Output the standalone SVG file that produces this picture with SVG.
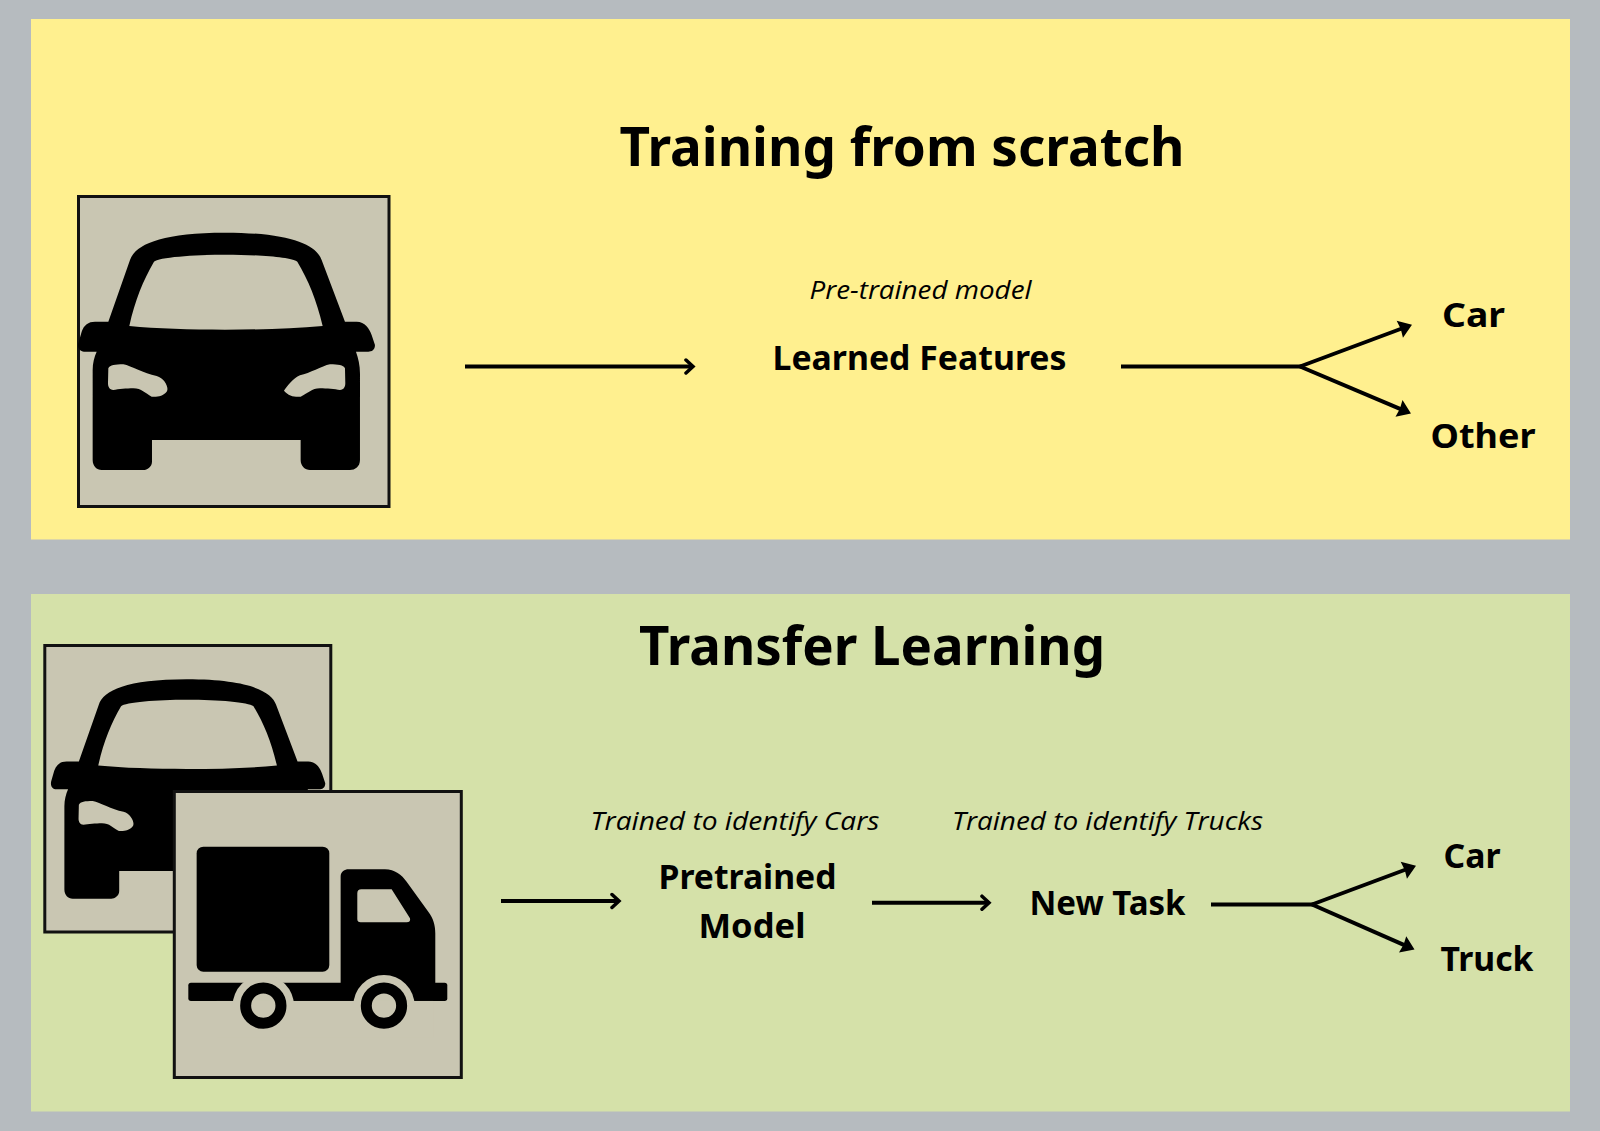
<svg xmlns="http://www.w3.org/2000/svg" width="1600" height="1131" viewBox="0 0 1600 1131">
<style>
.box{fill:#c9c6b2;stroke:#111;stroke-width:3}
.t{font-family:"Noto Sans","Open Sans",sans-serif;fill:#000;text-anchor:middle}
.h{font-size:54px;font-weight:700}
.b{font-size:34px;font-weight:700}
.i{font-family:"Open Sans","Noto Sans",sans-serif;font-size:25px;font-style:italic}
.c{fill:none;stroke:#000;stroke-width:4}
</style>
<defs>
<marker id="open" viewBox="0 0 12 18" refX="9" refY="9" markerWidth="12" markerHeight="18" markerUnits="userSpaceOnUse" orient="auto"><path d="M2 2.500L9 9L2 15.500" fill="none" stroke="#000" stroke-width="3.500" stroke-linecap="round"/></marker>
<marker id="solid" viewBox="0 0 14 20" refX="6" refY="10" markerWidth="14" markerHeight="20" markerUnits="userSpaceOnUse" orient="auto"><path d="M1 1L14 10L1 19L2 10Z" fill="#000"/></marker>
<path id="car" fill-rule="evenodd" d="M145 425L210 240C225 195 300 158 495 158C690 158 770 195 785 240L855 425L890 425C915 425 928 445 935 465L945 495C945 510 935 515 925 515L888 515C895 535 900 555 900 580L900 840C900 860 885 870 870 870L750 870C735 870 722 858 722 840L722 780L276 780L276 845C276 860 262 870 250 870L125 870C110 870 98 858 98 840L98 570C98 550 103 530 110 515L72 515C60 515 52 505 55 490L65 455C72 435 85 425 105 425Z M208 438C225 360 250 300 282 245C295 232 400 224 495 224C600 224 695 232 712 245C745 300 770 360 788 438C700 446 600 449 495 449C390 449 290 446 208 438Z M145 565C150 555 165 553 190 553C215 558 250 580 290 588C315 595 328 625 320 635C310 648 290 652 275 650C255 640 245 625 220 625C200 625 175 628 160 630C148 630 144 620 144 610Z M855 565C850 555 835 553 810 553C785 558 750 580 720 586C700 595 680 620 672 632C685 648 705 652 722 650C745 640 755 625 780 625C800 625 825 628 840 630C852 630 856 620 856 610Z"/>
</defs>
<rect width="1600" height="1131" fill="#b6bbbf"/>
<rect x="31" y="19" width="1539" height="520.500" fill="#fff08f"/>
<rect x="31" y="594" width="1539" height="517.500" fill="#d5e1a9"/>
<g id="title-scratch"><text class="t h" x="902" y="166" textLength="565" lengthAdjust="spacingAndGlyphs">Training from scratch</text></g>
<g id="title-transfer"><text class="t h" x="872" y="665" textLength="466" lengthAdjust="spacingAndGlyphs">Transfer Learning</text></g>
<g id="image-car-top"><rect class="box" x="78.500" y="196.500" width="310.500" height="310"/><use href="#car" transform="translate(60 180) scale(.3333)"/></g>
<g id="label-pretrained"><text class="t i" x="920.500" y="298.500" textLength="222" lengthAdjust="spacingAndGlyphs">Pre-trained model</text></g>
<g id="node-learned"><text class="t b" x="919.500" y="369.500" textLength="294" lengthAdjust="spacingAndGlyphs">Learned Features</text></g>
<g id="node-car-top"><text class="t b" x="1473.500" y="327" textLength="63" lengthAdjust="spacingAndGlyphs">Car</text></g>
<g id="node-other"><text class="t b" x="1483" y="448" textLength="105" lengthAdjust="spacingAndGlyphs">Other</text></g>
<g id="image-car-bottom"><rect class="box" x="44.800" y="645.500" width="286" height="286.500"/><use href="#car" transform="translate(34.200 630.700) scale(.308)"/></g>
<g id="image-truck"><rect class="box" x="174.300" y="791.500" width="287" height="286"/>
<g transform="translate(30 630) scale(.3333)"><rect x="500" y="650" width="398" height="375" rx="20"/><rect x="475" y="1058" width="777" height="55" rx="8"/><path fill-rule="evenodd" d="M932 1058L932 740C932 725 945 718 955 718L1065 718C1095 718 1115 735 1130 755L1195 845C1210 865 1216 885 1216 910L1216 1070L932 1070Z M982 790Q982 778 994 778L1085 778L1140 865Q1143 877 1130 877L992 877Q982 877 982 867Z"/><circle cx="700" cy="1127" r="92" fill="#c9c6b2"/><circle cx="1062" cy="1127" r="92" fill="#c9c6b2"/><rect x="560" y="1113" width="650" height="110" fill="#c9c6b2"/><circle cx="700" cy="1127" r="53" fill="none" stroke="#000" stroke-width="33"/><circle cx="1062" cy="1127" r="53" fill="none" stroke="#000" stroke-width="33"/></g></g>
<g id="label-cars"><text class="t i" x="735" y="829.500" textLength="289" lengthAdjust="spacingAndGlyphs">Trained to identify Cars</text></g>
<g id="label-trucks"><text class="t i" x="1107.500" y="829.500" textLength="311" lengthAdjust="spacingAndGlyphs">Trained to identify Trucks</text></g>
<g id="node-pretrained"><text class="t b" x="747.500" y="888.500" textLength="178" lengthAdjust="spacingAndGlyphs">Pretrained</text><text class="t b" x="752" y="937.500" textLength="107" lengthAdjust="spacingAndGlyphs">Model</text></g>
<g id="node-newtask"><text class="t b" x="1107.500" y="915" textLength="156" lengthAdjust="spacingAndGlyphs">New Task</text></g>
<g id="node-car-bottom"><text class="t b" x="1472" y="868" textLength="57" lengthAdjust="spacingAndGlyphs">Car</text></g>
<g id="node-truck"><text class="t b" x="1487" y="971" textLength="93" lengthAdjust="spacingAndGlyphs">Truck</text></g>
<g id="connectors">
<path class="c" marker-end="url(#open)" d="M465 366.500H693"/>
<path class="c" d="M1121 366.500H1301"/>
<path class="c" marker-end="url(#solid)" d="M1300 366.500L1404.500 327.500"/>
<path class="c" marker-end="url(#solid)" d="M1300 366.500L1403.600 410.300"/>
<path class="c" marker-end="url(#open)" d="M501 901H619"/>
<path class="c" marker-end="url(#open)" d="M872 902.700H989"/>
<path class="c" d="M1211 904.500H1314"/>
<path class="c" marker-end="url(#solid)" d="M1312 904.500L1408.500 868.500"/>
<path class="c" marker-end="url(#solid)" d="M1312 904.500L1407.200 946.400"/>
</g>
</svg>
